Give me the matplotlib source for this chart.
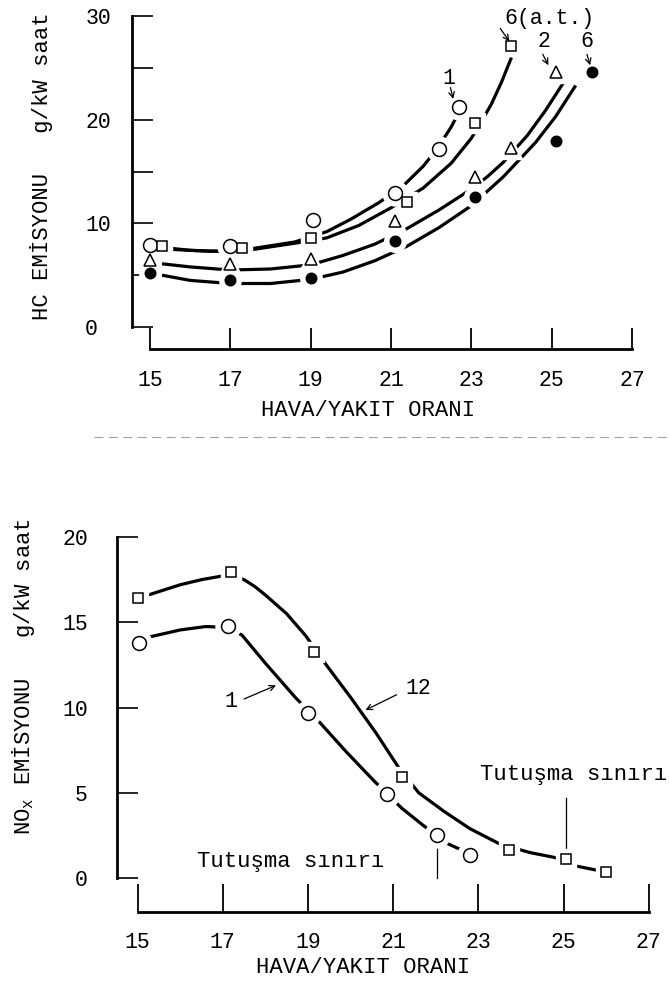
import matplotlib.pyplot as plt
from matplotlib.lines import Line2D

plt.rcParams['font.family'] = ['Liberation Mono', 'DejaVu Sans Mono']
plt.rcParams['mathtext.fontset'] = 'custom'
plt.rcParams['mathtext.rm'] = 'Liberation Mono'
plt.rcParams['mathtext.it'] = 'Liberation Mono'

# === HC emission (top) : measured points ===
hc1_x = [15.0, 17.0, 19.05, 21.1, 22.2, 22.7]
hc1_y = [7.9, 7.8, 10.35, 12.9, 17.2, 21.2]
hc6at_x = [15.3, 17.3, 19.0, 21.4, 23.1, 24.0]
hc6at_y = [7.85, 7.6, 8.6, 12.1, 19.7, 27.1]
hc2_x = [15.0, 17.0, 19.0, 21.1, 23.1, 24.0, 25.1]
hc2_y = [6.5, 6.1, 6.6, 10.2, 14.5, 17.3, 24.6]
hc6_x = [15.0, 17.0, 19.0, 21.1, 23.1, 25.1, 26.0]
hc6_y = [5.2, 4.5, 4.7, 8.3, 12.5, 17.9, 24.6]

# hand drawn trend curves
hc1_cx = [15.5, 16.0, 16.8, 17.6, 18.6, 19.4, 20.0, 20.7, 21.3, 21.8, 22.05, 22.3, 22.5, 22.65]
hc1_cy = [7.6, 7.4, 7.3, 7.6, 8.2, 9.2, 10.4, 12.0, 13.6, 15.5, 16.7, 18.1, 19.3, 20.4]
hc6at_cx = [15.5, 16.5, 17.6, 18.8, 19.4, 20.2, 21.0, 21.8, 22.5, 23.0, 23.25, 23.5, 23.75, 24.0]
hc6at_cy = [7.5, 7.3, 7.5, 8.2, 8.6, 9.8, 11.5, 13.4, 15.8, 18.2, 19.8, 21.5, 23.6, 26.0]
hc2_cx = [15.3, 16.0, 17.0, 18.0, 19.0, 19.8, 20.6, 21.4, 22.2, 23.0, 23.4, 23.8, 24.4, 24.85, 25.3]
hc2_cy = [6.1, 5.8, 5.5, 5.6, 6.0, 6.9, 8.0, 9.5, 11.3, 13.3, 14.5, 15.9, 18.5, 20.9, 23.6]
hc6_cx = [15.3, 16.0, 17.0, 18.0, 19.0, 19.8, 20.6, 21.4, 22.2, 23.0, 23.8, 24.6, 25.1, 25.6]
hc6_cy = [5.0, 4.5, 4.2, 4.2, 4.6, 5.3, 6.4, 7.8, 9.6, 11.7, 14.5, 17.8, 20.3, 23.3]

# === NOx emission (bottom) ===
nox1_x = [15.03, 17.12, 18.99, 20.85, 22.04, 22.8]
nox1_y = [13.76, 14.79, 9.66, 4.92, 2.54, 1.37]
nox12_x = [15.0, 17.19, 19.14, 21.2, 23.73, 25.06, 26.0]
nox12_y = [16.4, 17.96, 13.27, 5.95, 1.66, 1.11, 0.33]

nox1_cx = [15.3, 16.0, 16.6, 17.1, 17.45, 17.7, 18.0, 18.7, 19.25, 19.9, 20.55, 21.2, 21.7,
           22.25, 22.6]
nox1_cy = [14.15, 14.55, 14.75, 14.7, 14.25, 13.5, 12.6, 10.6, 9.2, 7.4, 5.7, 4.1, 3.1,
           2.05, 1.65]
nox12_cx = [15.25, 16.0, 16.5, 17.0, 17.25, 17.5, 17.75, 18.0, 18.5, 18.95, 19.4, 20.0,
            20.6, 21.15, 21.6, 22.2, 22.8, 23.5, 24.2, 24.8, 25.3, 25.8]
nox12_cy = [16.6, 17.2, 17.5, 17.72, 17.72, 17.5, 17.1, 16.6, 15.5, 14.2, 12.6, 10.6,
            8.5, 6.4, 5.0, 3.9, 2.9, 2.0, 1.5, 1.2, 0.7, 0.45]

x_ticks = [15, 17, 19, 21, 23, 25, 27]
hc_yticks = [0, 5, 10, 15, 20, 25, 30]
hc_ylabels = ['0 ', '', '10', '', '20', '', '30']
nox_yticks = [0, 5, 10, 15, 20]
nox_ylabels = ['0', '5', '10', '15', '20']

FS = 15.5


def series(ax, cx, cy, px, py, marker, ms, filled=False):
    ax.plot(cx, cy, color='black', lw=2.3, solid_capstyle='butt', zorder=2)
    ax.plot(px, py, ls='none', marker=marker, ms=ms + 8, mfc='white', mec='white', zorder=3)
    ax.plot(px, py, ls='none', marker=marker, ms=ms, mfc='black' if filled else 'white',
            mec='black', mew=1.1, zorder=4)


def style(ax, yticks, ylabels, xspine, yspine, ypad, xpad, xlen):
    for s in ['top', 'right']:
        ax.spines[s].set_visible(False)
    ax.spines['left'].set_position(('data', yspine))
    ax.spines['bottom'].set_position(('data', xspine))
    ax.spines['left'].set_bounds(yticks[0], yticks[-1])
    ax.spines['bottom'].set_bounds(15, 27)
    ax.spines['left'].set_linewidth(2.0)
    ax.spines['bottom'].set_linewidth(2.0)
    ax.set_yticks(yticks, ylabels)
    ax.set_xticks(x_ticks)
    ax.tick_params(axis='y', direction='in', length=15, width=1.2, pad=ypad, labelsize=FS)
    ax.tick_params(axis='x', direction='in', length=xlen, width=1.3, pad=xpad, labelsize=FS)


fig = plt.figure(figsize=(6.69, 9.85), dpi=100)

# ---- top: HC ----
ax1 = fig.add_axes([0.1822, 0.6427, 0.7864, 0.3516])
ax1.set_xlim(14.3, 27.4)
ax1.set_ylim(-2.4, 31)
series(ax1, hc1_cx, hc1_cy, hc1_x, hc1_y, 'o', 10)
series(ax1, hc6at_cx, hc6at_cy, hc6at_x, hc6at_y, 's', 7)
series(ax1, hc2_cx, hc2_cy, hc2_x, hc2_y, '^', 8)
series(ax1, hc6_cx, hc6_cy, hc6_x, hc6_y, 'o', 7.5, filled=True)
style(ax1, hc_yticks, hc_ylabels, -2.1, 14.55, 15, 15, 15)
ax1.set_xlabel('HAVA/YAKIT ORANI', fontsize=16)
ax1.xaxis.set_label_coords(0.468, -0.139)
ax1.set_ylabel('HC EMİSYONU   g/kW saat', fontsize=16)
ax1.yaxis.set_label_coords(-0.13, 0.537)

arrow = dict(arrowstyle='->', lw=0.9, color='black', shrinkA=0, shrinkB=0)
ax1.text(24.95, 29.8, '6(a.t.)', fontsize=FS, ha='center', va='center')
ax1.annotate('', xy=(23.95, 27.55), xytext=(23.72, 28.8), arrowprops=arrow)
ax1.text(24.8, 27.5, '2', fontsize=FS, ha='center', va='center')
ax1.annotate('', xy=(24.92, 25.25), xytext=(24.78, 26.3), arrowprops=arrow)
ax1.text(25.88, 27.5, '6', fontsize=FS, ha='center', va='center')
ax1.annotate('', xy=(25.96, 25.25), xytext=(25.88, 26.3), arrowprops=arrow)
ax1.text(22.45, 24.0, '1', fontsize=FS, ha='center', va='center')
ax1.annotate('', xy=(22.55, 22.0), xytext=(22.48, 23.1), arrowprops=arrow)

# separator between the two scanned panels
fig.add_artist(Line2D([0.14, 1.0], [0.556, 0.556], transform=fig.transFigure,
                      color='#a0a0a0', lw=0.8, ls=(0, (8, 5))))

# ---- bottom: NOx ----
ax2 = fig.add_axes([0.1611, 0.0688, 0.834, 0.4033])
ax2.set_xlim(14.3, 27.4)
ax2.set_ylim(-2.3, 21)
series(ax2, nox1_cx, nox1_cy, nox1_x, nox1_y, 'o', 10)
series(ax2, nox12_cx, nox12_cy, nox12_x, nox12_y, 's', 7)
style(ax2, nox_yticks, nox_ylabels, -2.0, 14.52, 21, 14, 20)
ax2.set_xlabel('HAVA/YAKIT ORANI', fontsize=16)
ax2.xaxis.set_label_coords(0.457, -0.100)
ax2.set_ylabel('NO$_{x}$ EMİSYONU   g/kW saat', fontsize=16)
ax2.yaxis.set_label_coords(-0.126, 0.605)

ax2.text(17.2, 10.35, '1', fontsize=FS, ha='center', va='center')
ax2.annotate('', xy=(18.25, 11.3), xytext=(17.5, 10.5), arrowprops=arrow)
ax2.text(21.6, 11.1, '12', fontsize=FS, ha='center', va='center')
ax2.annotate('', xy=(20.35, 9.85), xytext=(21.08, 10.75), arrowprops=arrow)

ax2.plot([22.04, 22.04], [0.0, 2.1], color='black', lw=0.9, zorder=1)
ax2.text(18.6, 0.98, 'Tutuşma sınırı', fontsize=16, ha='center', va='center')
ax2.plot([25.06, 25.06], [1.45, 4.7], color='black', lw=0.9, zorder=1)
ax2.text(23.05, 6.05, 'Tutuşma sınırı', fontsize=16, ha='left', va='center', clip_on=False)

fig.savefig('out.png', dpi=100)
